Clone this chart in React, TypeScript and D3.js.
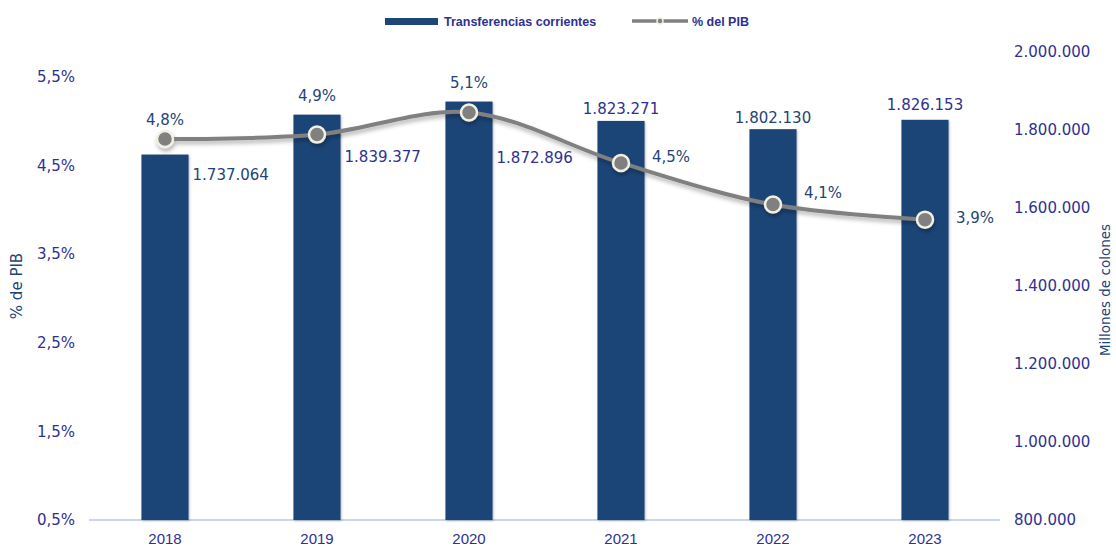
import React from 'react';
import * as d3 from 'd3';

// data
const years = ['2018', '2019', '2020', '2021', '2022', '2023'];
const transferencias = [1737064, 1839377, 1872896, 1823271, 1802130, 1826153];
const pctPib = [4.8, 4.85, 5.1, 4.53, 4.06, 3.89];
const pctLabels = ['4,8%', '4,9%', '5,1%', '4,5%', '4,1%', '3,9%'];
const leftTicks = [0.5, 1.5, 2.5, 3.5, 4.5, 5.5];
const rightTicks = [800000, 1000000, 1200000, 1400000, 1600000, 1800000, 2000000];

// label placement (layout only): 'side' = right of the bar/point, 'top' = above
const barLabelPos = ['side', 'side', 'side', 'top', 'top', 'top'];
const barLabelDy = [20, 42, 56, -12, -11, -15];
const pctLabelPos = ['top', 'top', 'top', 'side', 'side', 'side'];
const pctLabelDy = [-19, -19, -19, -6, -12, -2];

const W = 1116, H = 547;
const NAVY = '#1f4577';
const INDIGO = '#2e3192';
const FONT = '"DejaVu Sans", sans-serif';

const locale = d3.formatLocale({ decimal: ',', thousands: '.', grouping: [3], currency: ['', ''] });
const fmtNum = locale.format(',d');
const fmtPct = locale.format('.1f');

export default function App() {
  const x = d3.scaleBand<string>().domain(years).range([89, 1001]).paddingInner(0.69).paddingOuter(0.345);
  const yL = d3.scaleLinear().domain([0.5, 5.5]).range([520, 77]);
  const yR = d3.scaleLinear().domain([800000, 2000000]).range([520, 52]);
  const cx = (y: string) => (x(y) as number) + x.bandwidth() / 2;

  const line = d3.line<number>()
    .x((_, i) => cx(years[i]))
    .y(d => yL(d))
    .curve(d3.curveCatmullRom.alpha(0.5));

  return (
    <svg width={W} height={H} style={{ position: 'absolute', left: 0, top: 0, background: '#fff' }}>
      <defs>
        <filter id="shadow" x="-20%" y="-20%" width="140%" height="160%">
          <feDropShadow dx="1" dy="3" stdDeviation="2" floodColor="#000" floodOpacity="0.3" />
        </filter>
        <filter id="barShadow" x="-20%" y="-5%" width="140%" height="110%">
          <feDropShadow dx="1" dy="1" stdDeviation="1" floodColor="#000" floodOpacity="0.25" />
        </filter>
      </defs>

      {/* legend */}
      <g fontFamily='"Liberation Sans", sans-serif' fontSize={12.5} fontWeight="bold" fill={INDIGO}>
        <rect x={385} y={18} width={53} height={7} fill={NAVY} />
        <text x={444} y={25.5}>Transferencias corrientes</text>
        <line x1={632} x2={688} y1={21} y2={21} stroke="#808080" strokeWidth={3.5} />
        <circle cx={660} cy={21} r={3} fill="#808080" stroke="#f0eedf" strokeWidth={1.5} />
        <text x={692} y={25.5}>% del PIB</text>
      </g>

      {/* baseline */}
      <line x1={89} x2={1000} y1={520} y2={520} stroke="#c9d7ea" strokeWidth={2} />

      {/* left axis */}
      <g fontFamily={FONT} fontSize={15} fill={INDIGO} textAnchor="end">
        {leftTicks.map(t => (
          <text key={t} x={75} y={yL(t)} dy="0.35em">{fmtPct(t)}%</text>
        ))}
      </g>
      <text transform="translate(22,286) rotate(-90)" textAnchor="middle" fontFamily={FONT}
        fontSize={15} fill={NAVY}>% de PIB</text>

      {/* right axis */}
      <g fontFamily={FONT} fontSize={15} fill={INDIGO} textAnchor="start">
        {rightTicks.map(t => (
          <text key={t} x={1014} y={yR(t)} dy="0.35em">{fmtNum(t)}</text>
        ))}
      </g>
      <text transform="translate(1110,290) rotate(-90)" textAnchor="middle" fontFamily={FONT}
        fontSize={13.5} fill={NAVY}>Millones de colones</text>

      {/* x axis labels */}
      <g fontFamily='"Liberation Sans", sans-serif' fontSize={15} fill={INDIGO} textAnchor="middle">
        {years.map(y => (
          <text key={y} x={cx(y)} y={539} dy="0.35em">{y}</text>
        ))}
      </g>

      {/* bars */}
      <g filter="url(#barShadow)">
        {years.map((y, i) => (
          <rect key={y} x={x(y)} y={yR(transferencias[i])} width={x.bandwidth()}
            height={520 - yR(transferencias[i])} fill={NAVY} />
        ))}
      </g>

      {/* line */}
      <g filter="url(#shadow)">
        <path d={line(pctPib) || ''} fill="none" stroke="#808080" strokeWidth={4} />
        {years.map((y, i) => (
          <circle key={y} cx={cx(y)} cy={yL(pctPib[i])} r={8} fill="#808080" stroke="#f2f0e2" strokeWidth={2.5} />
        ))}
      </g>

      {/* bar value labels */}
      <g fontFamily={FONT} fontSize={15}>
        {years.map((y, i) => {
          const top = barLabelPos[i] === 'top';
          return (
            <text key={y}
              x={top ? cx(y) : (x(y) as number) + x.bandwidth() + 4}
              y={yR(transferencias[i]) + barLabelDy[i]}
              dy="0.35em"
              textAnchor={top ? 'middle' : 'start'}
              fill={i === 0 || i === 4 ? NAVY : INDIGO}>
              {fmtNum(transferencias[i])}
            </text>
          );
        })}
      </g>

      {/* percentage labels */}
      <g fontFamily={FONT} fontSize={15} fill={NAVY}>
        {years.map((y, i) => {
          const top = pctLabelPos[i] === 'top';
          const anchorY = top ? Math.min(yL(pctPib[i]), yR(transferencias[i])) : yL(pctPib[i]);
          return (
            <text key={y}
              x={top ? cx(y) : cx(y) + 31}
              y={anchorY + pctLabelDy[i]}
              dy="0.35em"
              textAnchor={top ? 'middle' : 'start'}>
              {pctLabels[i]}
            </text>
          );
        })}
      </g>
    </svg>
  );
}
